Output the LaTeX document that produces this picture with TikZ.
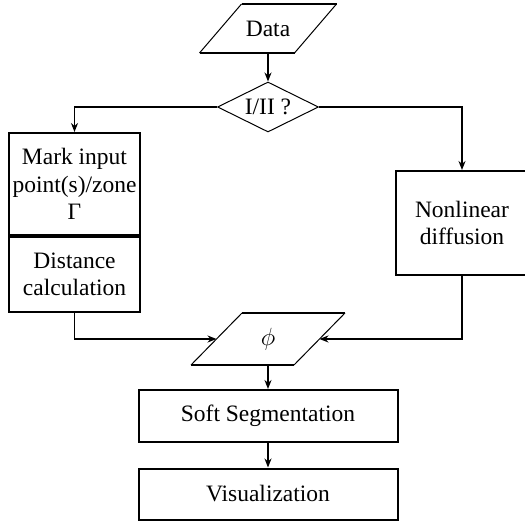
\documentclass[tikz,border=0pt]{standalone}
\usepackage{fontspec}
\setmainfont{Liberation Serif}
\usetikzlibrary{arrows.meta,shapes.geometric,calc}
\begin{document}
\begin{tikzpicture}[x=1pt,y=-1pt,
  every node/.style={font=\fontsize{23.5}{27.5}\selectfont, align=center, inner sep=0pt},
  procbox/.style={draw, line width=2pt},
  iobox/.style={inner sep=0pt, outer sep=0pt},
  edgethick/.style={line width=2pt},
  edgethin/.style={line width=1pt},
  flow/.style={line width=1.8pt, -{Stealth[length=9pt,width=7pt]}}]
  \useasboundingbox (0,0) rectangle (525,521);
  \fill[white] (0,0) rectangle (525,521);
  \clip (0,0) rectangle (525,521);

  % input / output blocks (parallelograms)
  \node[iobox, minimum width=95, minimum height=49] (data) at (268,28.5) {Data};
  \node[iobox, minimum width=103, minimum height=52] (phi) at (268,339) {$\phi$};

  \foreach \n/\s in {data/21, phi/25.5} {
    \draw[edgethick] ($(\n.north west)+(\s,0)$) -- ($(\n.north east)+(\s,0)$);
    \draw[edgethick] ($(\n.south west)+(-\s,0)$) -- ($(\n.south east)+(-\s,0)$);
    \draw[edgethin] ($(\n.north west)+(\s,0)$) -- ($(\n.south west)+(-\s,0)$);
    \draw[edgethin] ($(\n.north east)+(\s,0)$) -- ($(\n.south east)+(-\s,0)$);
  }

  % decision
  \node[draw, diamond, aspect=2, line width=1pt, minimum width=101, minimum height=50] (dia) at (268,107) {I/II ?};

  % process boxes
  \node[procbox, minimum width=131, minimum height=102] (mark) at (74.5,184) {Mark input\\point(s)/zone\\Γ};
  \node[procbox, minimum width=131, minimum height=75] (dist) at (74.5,274.5) {Distance\\calculation};
  \node[procbox, minimum width=132, minimum height=104] (nonlin) at (462,223) {Nonlinear\\diffusion};
  \node[procbox, minimum width=259, minimum height=52] (soft) at (268,416) {Soft Segmentation};
  \node[procbox, minimum width=259, minimum height=51] (vis) at (268,494) {Visualization};

  % connectors
  \draw[flow] (data.south) -- (dia.north);
  \draw[flow] (dia.west) -| (mark.north);
  \draw[flow] (dia.east) -| (nonlin.north);
  \draw[flow] (dist.south) |- (phi.west);
  \draw[flow] (nonlin.south) |- (phi.east);
  \draw[flow] (phi.south) -- (soft.north);
  \draw[flow] (soft.south) -- (vis.north);
\end{tikzpicture}
\end{document}
